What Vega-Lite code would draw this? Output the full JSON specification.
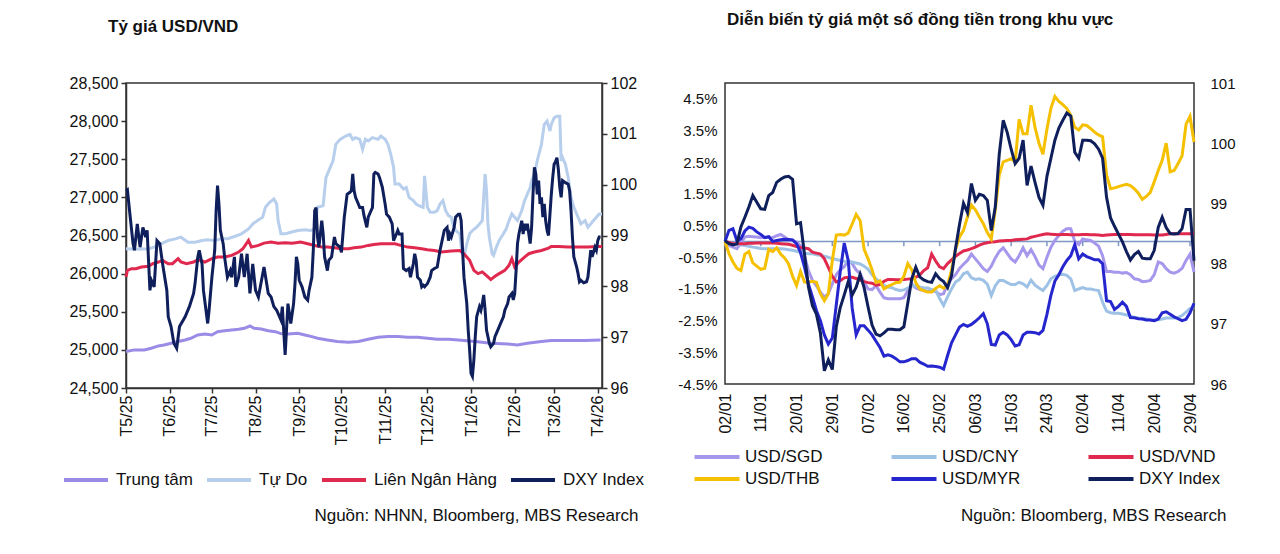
{
  "$schema": "https://vega.github.io/schema/vega-lite/v6.json",
  "padding": {"left": 61, "top": 10, "right": 0, "bottom": 0},
  "spacing": 31,
  "config": {
    "font": "Liberation Sans",
    "view": {"stroke": "#333333", "strokeWidth": 1.5},
    "axis": {"grid": false, "labelOverlap": false, "labelFlush": false, "labelColor": "#111111", "domainColor": "#333333", "tickColor": "#333333", "domainWidth": 1.5, "tickWidth": 1.5, "titleColor": "#111111", "titleFontWeight": "normal"},
    "title": {"fontSize": 17, "fontWeight": "bold", "anchor": "start", "frame": "group", "color": "#111111"},
    "legend": {"padding": 0, "title": null, "symbolType": "stroke", "symbolStrokeWidth": 4, "labelFontSize": 17, "labelColor": "#111111", "labelLimit": 300}
  },
  "resolve": {"scale": {"color": "independent"}, "legend": {"color": "independent"}},
  "datasets": {
    "vnd": [
      {"date": "2025-05-01", "series": "Trung tâm", "value": 24978},
      {"date": "2025-05-07", "series": "Trung tâm", "value": 25000},
      {"date": "2025-05-14", "series": "Trung tâm", "value": 25000},
      {"date": "2025-05-19", "series": "Trung tâm", "value": 25022},
      {"date": "2025-05-24", "series": "Trung tâm", "value": 25052},
      {"date": "2025-05-28", "series": "Trung tâm", "value": 25065},
      {"date": "2025-06-02", "series": "Trung tâm", "value": 25087},
      {"date": "2025-06-07", "series": "Trung tâm", "value": 25109},
      {"date": "2025-06-12", "series": "Trung tâm", "value": 25130},
      {"date": "2025-06-16", "series": "Trung tâm", "value": 25152},
      {"date": "2025-06-21", "series": "Trung tâm", "value": 25196},
      {"date": "2025-06-26", "series": "Trung tâm", "value": 25209},
      {"date": "2025-07-01", "series": "Trung tâm", "value": 25196},
      {"date": "2025-07-05", "series": "Trung tâm", "value": 25239},
      {"date": "2025-07-10", "series": "Trung tâm", "value": 25252},
      {"date": "2025-07-15", "series": "Trung tâm", "value": 25261},
      {"date": "2025-07-20", "series": "Trung tâm", "value": 25270},
      {"date": "2025-07-24", "series": "Trung tâm", "value": 25283},
      {"date": "2025-07-28", "series": "Trung tâm", "value": 25313},
      {"date": "2025-07-31", "series": "Trung tâm", "value": 25283},
      {"date": "2025-08-05", "series": "Trung tâm", "value": 25274},
      {"date": "2025-08-10", "series": "Trung tâm", "value": 25252},
      {"date": "2025-08-15", "series": "Trung tâm", "value": 25239},
      {"date": "2025-08-19", "series": "Trung tâm", "value": 25213},
      {"date": "2025-08-24", "series": "Trung tâm", "value": 25209},
      {"date": "2025-08-31", "series": "Trung tâm", "value": 25217},
      {"date": "2025-09-05", "series": "Trung tâm", "value": 25196},
      {"date": "2025-09-10", "series": "Trung tâm", "value": 25174},
      {"date": "2025-09-14", "series": "Trung tâm", "value": 25152},
      {"date": "2025-09-21", "series": "Trung tâm", "value": 25130},
      {"date": "2025-09-28", "series": "Trung tâm", "value": 25109},
      {"date": "2025-10-06", "series": "Trung tâm", "value": 25100},
      {"date": "2025-10-13", "series": "Trung tâm", "value": 25109},
      {"date": "2025-10-20", "series": "Trung tâm", "value": 25139},
      {"date": "2025-10-27", "series": "Trung tâm", "value": 25165},
      {"date": "2025-11-03", "series": "Trung tâm", "value": 25174},
      {"date": "2025-11-10", "series": "Trung tâm", "value": 25174},
      {"date": "2025-11-17", "series": "Trung tâm", "value": 25165},
      {"date": "2025-11-24", "series": "Trung tâm", "value": 25165},
      {"date": "2025-12-01", "series": "Trung tâm", "value": 25152},
      {"date": "2025-12-08", "series": "Trung tâm", "value": 25139},
      {"date": "2025-12-16", "series": "Trung tâm", "value": 25139},
      {"date": "2025-12-23", "series": "Trung tâm", "value": 25130},
      {"date": "2026-01-04", "series": "Trung tâm", "value": 25109},
      {"date": "2026-01-15", "series": "Trung tâm", "value": 25087},
      {"date": "2026-01-27", "series": "Trung tâm", "value": 25078},
      {"date": "2026-02-03", "series": "Trung tâm", "value": 25065},
      {"date": "2026-02-10", "series": "Trung tâm", "value": 25087},
      {"date": "2026-02-20", "series": "Trung tâm", "value": 25109},
      {"date": "2026-02-27", "series": "Trung tâm", "value": 25122},
      {"date": "2026-03-11", "series": "Trung tâm", "value": 25122},
      {"date": "2026-03-23", "series": "Trung tâm", "value": 25122},
      {"date": "2026-04-03", "series": "Trung tâm", "value": 25130},
      {"date": "2025-05-01", "series": "Tự Do", "value": 26326},
      {"date": "2025-05-09", "series": "Tự Do", "value": 26320},
      {"date": "2025-05-17", "series": "Tự Do", "value": 26326},
      {"date": "2025-05-21", "series": "Tự Do", "value": 26348},
      {"date": "2025-05-26", "series": "Tự Do", "value": 26391},
      {"date": "2025-05-31", "series": "Tự Do", "value": 26435},
      {"date": "2025-06-05", "series": "Tự Do", "value": 26456},
      {"date": "2025-06-09", "series": "Tự Do", "value": 26478},
      {"date": "2025-06-14", "series": "Tự Do", "value": 26413},
      {"date": "2025-06-19", "series": "Tự Do", "value": 26413},
      {"date": "2025-06-24", "series": "Tự Do", "value": 26435},
      {"date": "2025-06-28", "series": "Tự Do", "value": 26443},
      {"date": "2025-07-03", "series": "Tự Do", "value": 26435},
      {"date": "2025-07-08", "series": "Tự Do", "value": 26456},
      {"date": "2025-07-12", "series": "Tự Do", "value": 26456},
      {"date": "2025-07-17", "series": "Tự Do", "value": 26487},
      {"date": "2025-07-22", "series": "Tự Do", "value": 26522},
      {"date": "2025-07-27", "series": "Tự Do", "value": 26587},
      {"date": "2025-07-30", "series": "Tự Do", "value": 26652},
      {"date": "2025-08-03", "series": "Tự Do", "value": 26704},
      {"date": "2025-08-06", "series": "Tự Do", "value": 26739},
      {"date": "2025-08-08", "series": "Tự Do", "value": 26870},
      {"date": "2025-08-11", "series": "Tự Do", "value": 26935},
      {"date": "2025-08-14", "series": "Tự Do", "value": 26978},
      {"date": "2025-08-16", "series": "Tự Do", "value": 26913},
      {"date": "2025-08-17", "series": "Tự Do", "value": 26696},
      {"date": "2025-08-19", "series": "Tự Do", "value": 26522},
      {"date": "2025-08-22", "series": "Tự Do", "value": 26522},
      {"date": "2025-08-26", "series": "Tự Do", "value": 26543},
      {"date": "2025-08-31", "series": "Tự Do", "value": 26565},
      {"date": "2025-09-05", "series": "Tự Do", "value": 26574},
      {"date": "2025-09-09", "series": "Tự Do", "value": 26565},
      {"date": "2025-09-12", "series": "Tự Do", "value": 26587},
      {"date": "2025-09-14", "series": "Tự Do", "value": 26870},
      {"date": "2025-09-18", "series": "Tự Do", "value": 26891},
      {"date": "2025-09-20", "series": "Tự Do", "value": 27261},
      {"date": "2025-09-22", "series": "Tự Do", "value": 27348},
      {"date": "2025-09-25", "series": "Tự Do", "value": 27478},
      {"date": "2025-09-27", "series": "Tự Do", "value": 27696},
      {"date": "2025-09-30", "series": "Tự Do", "value": 27761},
      {"date": "2025-10-02", "series": "Tự Do", "value": 27783},
      {"date": "2025-10-04", "series": "Tự Do", "value": 27804},
      {"date": "2025-10-07", "series": "Tự Do", "value": 27826},
      {"date": "2025-10-09", "series": "Tự Do", "value": 27761},
      {"date": "2025-10-11", "series": "Tự Do", "value": 27783},
      {"date": "2025-10-14", "series": "Tự Do", "value": 27761},
      {"date": "2025-10-16", "series": "Tự Do", "value": 27630},
      {"date": "2025-10-18", "series": "Tự Do", "value": 27761},
      {"date": "2025-10-20", "series": "Tự Do", "value": 27739},
      {"date": "2025-10-23", "series": "Tự Do", "value": 27783},
      {"date": "2025-10-27", "series": "Tự Do", "value": 27761},
      {"date": "2025-10-29", "series": "Tự Do", "value": 27804},
      {"date": "2025-11-01", "series": "Tự Do", "value": 27761},
      {"date": "2025-11-03", "series": "Tự Do", "value": 27696},
      {"date": "2025-11-05", "series": "Tự Do", "value": 27565},
      {"date": "2025-11-07", "series": "Tự Do", "value": 27391},
      {"date": "2025-11-08", "series": "Tự Do", "value": 27174},
      {"date": "2025-11-11", "series": "Tự Do", "value": 27174},
      {"date": "2025-11-14", "series": "Tự Do", "value": 27109},
      {"date": "2025-11-16", "series": "Tự Do", "value": 27130},
      {"date": "2025-11-18", "series": "Tự Do", "value": 27000},
      {"date": "2025-11-21", "series": "Tự Do", "value": 26957},
      {"date": "2025-11-23", "series": "Tự Do", "value": 26913},
      {"date": "2025-11-25", "series": "Tự Do", "value": 26891},
      {"date": "2025-11-28", "series": "Tự Do", "value": 26870},
      {"date": "2025-11-29", "series": "Tự Do", "value": 27283},
      {"date": "2025-12-01", "series": "Tự Do", "value": 26870},
      {"date": "2025-12-03", "series": "Tự Do", "value": 26804},
      {"date": "2025-12-06", "series": "Tự Do", "value": 26804},
      {"date": "2025-12-08", "series": "Tự Do", "value": 26826},
      {"date": "2025-12-10", "series": "Tự Do", "value": 26913},
      {"date": "2025-12-12", "series": "Tự Do", "value": 26957},
      {"date": "2025-12-14", "series": "Tự Do", "value": 26826},
      {"date": "2025-12-16", "series": "Tự Do", "value": 26761},
      {"date": "2025-12-18", "series": "Tự Do", "value": 26739},
      {"date": "2025-12-19", "series": "Tự Do", "value": 26652},
      {"date": "2025-12-21", "series": "Tự Do", "value": 26565},
      {"date": "2025-12-24", "series": "Tự Do", "value": 26522},
      {"date": "2025-12-25", "series": "Tự Do", "value": 26348},
      {"date": "2025-12-27", "series": "Tự Do", "value": 26217},
      {"date": "2025-12-29", "series": "Tự Do", "value": 26391},
      {"date": "2025-12-31", "series": "Tự Do", "value": 26522},
      {"date": "2026-01-02", "series": "Tự Do", "value": 26565},
      {"date": "2026-01-05", "series": "Tự Do", "value": 26609},
      {"date": "2026-01-07", "series": "Tự Do", "value": 26652},
      {"date": "2026-01-09", "series": "Tự Do", "value": 26696},
      {"date": "2026-01-11", "series": "Tự Do", "value": 27304},
      {"date": "2026-01-12", "series": "Tự Do", "value": 27087},
      {"date": "2026-01-13", "series": "Tự Do", "value": 26652},
      {"date": "2026-01-14", "series": "Tự Do", "value": 26478},
      {"date": "2026-01-16", "series": "Tự Do", "value": 26261},
      {"date": "2026-01-17", "series": "Tự Do", "value": 26239},
      {"date": "2026-01-19", "series": "Tự Do", "value": 26348},
      {"date": "2026-01-21", "series": "Tự Do", "value": 26435},
      {"date": "2026-01-24", "series": "Tự Do", "value": 26522},
      {"date": "2026-01-26", "series": "Tự Do", "value": 26587},
      {"date": "2026-01-28", "series": "Tự Do", "value": 26696},
      {"date": "2026-01-30", "series": "Tự Do", "value": 26783},
      {"date": "2026-02-01", "series": "Tự Do", "value": 26739},
      {"date": "2026-02-03", "series": "Tự Do", "value": 26696},
      {"date": "2026-02-04", "series": "Tự Do", "value": 26739},
      {"date": "2026-02-06", "series": "Tự Do", "value": 26826},
      {"date": "2026-02-08", "series": "Tự Do", "value": 26957},
      {"date": "2026-02-10", "series": "Tự Do", "value": 27043},
      {"date": "2026-02-12", "series": "Tự Do", "value": 27130},
      {"date": "2026-02-13", "series": "Tự Do", "value": 27217},
      {"date": "2026-02-15", "series": "Tự Do", "value": 27304},
      {"date": "2026-02-17", "series": "Tự Do", "value": 27478},
      {"date": "2026-02-20", "series": "Tự Do", "value": 27696},
      {"date": "2026-02-22", "series": "Tự Do", "value": 27957},
      {"date": "2026-02-24", "series": "Tự Do", "value": 28000},
      {"date": "2026-02-26", "series": "Tự Do", "value": 27870},
      {"date": "2026-02-27", "series": "Tự Do", "value": 27957},
      {"date": "2026-03-01", "series": "Tự Do", "value": 28043},
      {"date": "2026-03-03", "series": "Tự Do", "value": 28065},
      {"date": "2026-03-05", "series": "Tự Do", "value": 28065},
      {"date": "2026-03-06", "series": "Tự Do", "value": 27478},
      {"date": "2026-03-07", "series": "Tự Do", "value": 27522},
      {"date": "2026-03-09", "series": "Tự Do", "value": 27435},
      {"date": "2026-03-11", "series": "Tự Do", "value": 27261},
      {"date": "2026-03-13", "series": "Tự Do", "value": 27000},
      {"date": "2026-03-15", "series": "Tự Do", "value": 26870},
      {"date": "2026-03-18", "series": "Tự Do", "value": 26739},
      {"date": "2026-03-20", "series": "Tự Do", "value": 26652},
      {"date": "2026-03-23", "series": "Tự Do", "value": 26696},
      {"date": "2026-03-25", "series": "Tự Do", "value": 26609},
      {"date": "2026-03-27", "series": "Tự Do", "value": 26652},
      {"date": "2026-03-29", "series": "Tự Do", "value": 26696},
      {"date": "2026-03-31", "series": "Tự Do", "value": 26739},
      {"date": "2026-04-02", "series": "Tự Do", "value": 26783},
      {"date": "2026-04-04", "series": "Tự Do", "value": 26783},
      {"date": "2025-05-01", "series": "Liên Ngân Hàng", "value": 25957},
      {"date": "2025-05-02", "series": "Liên Ngân Hàng", "value": 26043},
      {"date": "2025-05-05", "series": "Liên Ngân Hàng", "value": 26065},
      {"date": "2025-05-08", "series": "Liên Ngân Hàng", "value": 26065},
      {"date": "2025-05-12", "series": "Liên Ngân Hàng", "value": 26087},
      {"date": "2025-05-17", "series": "Liên Ngân Hàng", "value": 26096},
      {"date": "2025-05-20", "series": "Liên Ngân Hàng", "value": 26130},
      {"date": "2025-05-24", "series": "Liên Ngân Hàng", "value": 26152},
      {"date": "2025-05-27", "series": "Liên Ngân Hàng", "value": 26174},
      {"date": "2025-05-31", "series": "Liên Ngân Hàng", "value": 26130},
      {"date": "2025-06-03", "series": "Liên Ngân Hàng", "value": 26130},
      {"date": "2025-06-07", "series": "Liên Ngân Hàng", "value": 26196},
      {"date": "2025-06-09", "series": "Liên Ngân Hàng", "value": 26152},
      {"date": "2025-06-13", "series": "Liên Ngân Hàng", "value": 26130},
      {"date": "2025-06-18", "series": "Liên Ngân Hàng", "value": 26152},
      {"date": "2025-06-21", "series": "Liên Ngân Hàng", "value": 26183},
      {"date": "2025-06-26", "series": "Liên Ngân Hàng", "value": 26152},
      {"date": "2025-07-01", "series": "Liên Ngân Hàng", "value": 26196},
      {"date": "2025-07-05", "series": "Liên Ngân Hàng", "value": 26217},
      {"date": "2025-07-10", "series": "Liên Ngân Hàng", "value": 26217},
      {"date": "2025-07-15", "series": "Liên Ngân Hàng", "value": 26239},
      {"date": "2025-07-20", "series": "Liên Ngân Hàng", "value": 26283},
      {"date": "2025-07-23", "series": "Liên Ngân Hàng", "value": 26326},
      {"date": "2025-07-27", "series": "Liên Ngân Hàng", "value": 26435},
      {"date": "2025-07-29", "series": "Liên Ngân Hàng", "value": 26348},
      {"date": "2025-08-03", "series": "Liên Ngân Hàng", "value": 26370},
      {"date": "2025-08-07", "series": "Liên Ngân Hàng", "value": 26400},
      {"date": "2025-08-12", "series": "Liên Ngân Hàng", "value": 26413},
      {"date": "2025-08-17", "series": "Liên Ngân Hàng", "value": 26400},
      {"date": "2025-08-22", "series": "Liên Ngân Hàng", "value": 26404},
      {"date": "2025-08-27", "series": "Liên Ngân Hàng", "value": 26400},
      {"date": "2025-09-02", "series": "Liên Ngân Hàng", "value": 26413},
      {"date": "2025-09-07", "series": "Liên Ngân Hàng", "value": 26391},
      {"date": "2025-09-12", "series": "Liên Ngân Hàng", "value": 26370},
      {"date": "2025-09-17", "series": "Liên Ngân Hàng", "value": 26348},
      {"date": "2025-09-21", "series": "Liên Ngân Hàng", "value": 26348},
      {"date": "2025-09-26", "series": "Liên Ngân Hàng", "value": 26339},
      {"date": "2025-10-01", "series": "Liên Ngân Hàng", "value": 26326},
      {"date": "2025-10-06", "series": "Liên Ngân Hàng", "value": 26326},
      {"date": "2025-10-10", "series": "Liên Ngân Hàng", "value": 26339},
      {"date": "2025-10-15", "series": "Liên Ngân Hàng", "value": 26348},
      {"date": "2025-10-20", "series": "Liên Ngân Hàng", "value": 26370},
      {"date": "2025-10-24", "series": "Liên Ngân Hàng", "value": 26383},
      {"date": "2025-10-29", "series": "Liên Ngân Hàng", "value": 26391},
      {"date": "2025-11-03", "series": "Liên Ngân Hàng", "value": 26391},
      {"date": "2025-11-08", "series": "Liên Ngân Hàng", "value": 26391},
      {"date": "2025-11-12", "series": "Liên Ngân Hàng", "value": 26370},
      {"date": "2025-11-17", "series": "Liên Ngân Hàng", "value": 26348},
      {"date": "2025-11-22", "series": "Liên Ngân Hàng", "value": 26339},
      {"date": "2025-11-27", "series": "Liên Ngân Hàng", "value": 26326},
      {"date": "2025-12-01", "series": "Liên Ngân Hàng", "value": 26313},
      {"date": "2025-12-06", "series": "Liên Ngân Hàng", "value": 26304},
      {"date": "2025-12-11", "series": "Liên Ngân Hàng", "value": 26283},
      {"date": "2025-12-18", "series": "Liên Ngân Hàng", "value": 26296},
      {"date": "2025-12-24", "series": "Liên Ngân Hàng", "value": 26304},
      {"date": "2025-12-27", "series": "Liên Ngân Hàng", "value": 26261},
      {"date": "2025-12-31", "series": "Liên Ngân Hàng", "value": 26174},
      {"date": "2026-01-03", "series": "Liên Ngân Hàng", "value": 26043},
      {"date": "2026-01-06", "series": "Liên Ngân Hàng", "value": 26000},
      {"date": "2026-01-09", "series": "Liên Ngân Hàng", "value": 26022},
      {"date": "2026-01-13", "series": "Liên Ngân Hàng", "value": 25957},
      {"date": "2026-01-15", "series": "Liên Ngân Hàng", "value": 25922},
      {"date": "2026-01-18", "series": "Liên Ngân Hàng", "value": 25965},
      {"date": "2026-01-21", "series": "Liên Ngân Hàng", "value": 26000},
      {"date": "2026-01-25", "series": "Liên Ngân Hàng", "value": 26043},
      {"date": "2026-01-28", "series": "Liên Ngân Hàng", "value": 26109},
      {"date": "2026-01-30", "series": "Liên Ngân Hàng", "value": 26196},
      {"date": "2026-02-01", "series": "Liên Ngân Hàng", "value": 26087},
      {"date": "2026-02-04", "series": "Liên Ngân Hàng", "value": 26152},
      {"date": "2026-02-08", "series": "Liên Ngân Hàng", "value": 26217},
      {"date": "2026-02-11", "series": "Liên Ngân Hàng", "value": 26261},
      {"date": "2026-02-15", "series": "Liên Ngân Hàng", "value": 26283},
      {"date": "2026-02-20", "series": "Liên Ngân Hàng", "value": 26304},
      {"date": "2026-02-25", "series": "Liên Ngân Hàng", "value": 26335},
      {"date": "2026-02-27", "series": "Liên Ngân Hàng", "value": 26357},
      {"date": "2026-03-04", "series": "Liên Ngân Hàng", "value": 26357},
      {"date": "2026-03-11", "series": "Liên Ngân Hàng", "value": 26348},
      {"date": "2026-03-18", "series": "Liên Ngân Hàng", "value": 26348},
      {"date": "2026-03-25", "series": "Liên Ngân Hàng", "value": 26348},
      {"date": "2026-04-01", "series": "Liên Ngân Hàng", "value": 26357},
      {"date": "2026-04-04", "series": "Liên Ngân Hàng", "value": 26357},
      {"date": "2025-05-01", "series": "DXY Index", "value": 99.88},
      {"date": "2025-05-02", "series": "DXY Index", "value": 99.9},
      {"date": "2025-05-04", "series": "DXY Index", "value": 99.36},
      {"date": "2025-05-06", "series": "DXY Index", "value": 98.84},
      {"date": "2025-05-07", "series": "DXY Index", "value": 98.71},
      {"date": "2025-05-09", "series": "DXY Index", "value": 99.23},
      {"date": "2025-05-11", "series": "DXY Index", "value": 98.77},
      {"date": "2025-05-13", "series": "DXY Index", "value": 99.16},
      {"date": "2025-05-15", "series": "DXY Index", "value": 98.97},
      {"date": "2025-05-16", "series": "DXY Index", "value": 99.1},
      {"date": "2025-05-18", "series": "DXY Index", "value": 97.92},
      {"date": "2025-05-19", "series": "DXY Index", "value": 98.12},
      {"date": "2025-05-21", "series": "DXY Index", "value": 97.99},
      {"date": "2025-05-23", "series": "DXY Index", "value": 98.9},
      {"date": "2025-05-25", "series": "DXY Index", "value": 98.84},
      {"date": "2025-05-27", "series": "DXY Index", "value": 98.44},
      {"date": "2025-05-30", "series": "DXY Index", "value": 97.92},
      {"date": "2025-05-31", "series": "DXY Index", "value": 97.4},
      {"date": "2025-06-02", "series": "DXY Index", "value": 97.21},
      {"date": "2025-06-04", "series": "DXY Index", "value": 96.88},
      {"date": "2025-06-06", "series": "DXY Index", "value": 96.78},
      {"date": "2025-06-08", "series": "DXY Index", "value": 97.21},
      {"date": "2025-06-12", "series": "DXY Index", "value": 97.4},
      {"date": "2025-06-15", "series": "DXY Index", "value": 97.6},
      {"date": "2025-06-18", "series": "DXY Index", "value": 97.86},
      {"date": "2025-06-19", "series": "DXY Index", "value": 98.05},
      {"date": "2025-06-21", "series": "DXY Index", "value": 98.58},
      {"date": "2025-06-22", "series": "DXY Index", "value": 98.71},
      {"date": "2025-06-24", "series": "DXY Index", "value": 98.44},
      {"date": "2025-06-25", "series": "DXY Index", "value": 97.92},
      {"date": "2025-06-28", "series": "DXY Index", "value": 97.27},
      {"date": "2025-06-29", "series": "DXY Index", "value": 97.53},
      {"date": "2025-07-01", "series": "DXY Index", "value": 98.18},
      {"date": "2025-07-03", "series": "DXY Index", "value": 98.71},
      {"date": "2025-07-04", "series": "DXY Index", "value": 99.49},
      {"date": "2025-07-05", "series": "DXY Index", "value": 99.98},
      {"date": "2025-07-06", "series": "DXY Index", "value": 99.62},
      {"date": "2025-07-07", "series": "DXY Index", "value": 99.1},
      {"date": "2025-07-09", "series": "DXY Index", "value": 98.84},
      {"date": "2025-07-10", "series": "DXY Index", "value": 98.58},
      {"date": "2025-07-12", "series": "DXY Index", "value": 98.18},
      {"date": "2025-07-14", "series": "DXY Index", "value": 98.31},
      {"date": "2025-07-15", "series": "DXY Index", "value": 98.18},
      {"date": "2025-07-17", "series": "DXY Index", "value": 98.58},
      {"date": "2025-07-18", "series": "DXY Index", "value": 97.99},
      {"date": "2025-07-20", "series": "DXY Index", "value": 98.18},
      {"date": "2025-07-22", "series": "DXY Index", "value": 98.64},
      {"date": "2025-07-24", "series": "DXY Index", "value": 98.18},
      {"date": "2025-07-26", "series": "DXY Index", "value": 98.64},
      {"date": "2025-07-28", "series": "DXY Index", "value": 97.86},
      {"date": "2025-07-30", "series": "DXY Index", "value": 98.44},
      {"date": "2025-08-01", "series": "DXY Index", "value": 97.92},
      {"date": "2025-08-03", "series": "DXY Index", "value": 97.79},
      {"date": "2025-08-07", "series": "DXY Index", "value": 98.38},
      {"date": "2025-08-10", "series": "DXY Index", "value": 97.86},
      {"date": "2025-08-12", "series": "DXY Index", "value": 97.79},
      {"date": "2025-08-14", "series": "DXY Index", "value": 97.6},
      {"date": "2025-08-16", "series": "DXY Index", "value": 97.53},
      {"date": "2025-08-19", "series": "DXY Index", "value": 97.34},
      {"date": "2025-08-20", "series": "DXY Index", "value": 97.6},
      {"date": "2025-08-22", "series": "DXY Index", "value": 96.65},
      {"date": "2025-08-24", "series": "DXY Index", "value": 97.66},
      {"date": "2025-08-26", "series": "DXY Index", "value": 97.27},
      {"date": "2025-08-28", "series": "DXY Index", "value": 97.66},
      {"date": "2025-08-29", "series": "DXY Index", "value": 98.05},
      {"date": "2025-08-30", "series": "DXY Index", "value": 98.58},
      {"date": "2025-08-31", "series": "DXY Index", "value": 98.44},
      {"date": "2025-09-01", "series": "DXY Index", "value": 98.12},
      {"date": "2025-09-03", "series": "DXY Index", "value": 97.99},
      {"date": "2025-09-05", "series": "DXY Index", "value": 97.79},
      {"date": "2025-09-07", "series": "DXY Index", "value": 97.73},
      {"date": "2025-09-08", "series": "DXY Index", "value": 97.92},
      {"date": "2025-09-10", "series": "DXY Index", "value": 98.18},
      {"date": "2025-09-11", "series": "DXY Index", "value": 98.71},
      {"date": "2025-09-12", "series": "DXY Index", "value": 99.49},
      {"date": "2025-09-13", "series": "DXY Index", "value": 99.55},
      {"date": "2025-09-14", "series": "DXY Index", "value": 98.97},
      {"date": "2025-09-15", "series": "DXY Index", "value": 98.77},
      {"date": "2025-09-17", "series": "DXY Index", "value": 99.29},
      {"date": "2025-09-18", "series": "DXY Index", "value": 99.03},
      {"date": "2025-09-19", "series": "DXY Index", "value": 98.58},
      {"date": "2025-09-21", "series": "DXY Index", "value": 98.31},
      {"date": "2025-09-22", "series": "DXY Index", "value": 98.51},
      {"date": "2025-09-24", "series": "DXY Index", "value": 98.58},
      {"date": "2025-09-26", "series": "DXY Index", "value": 98.97},
      {"date": "2025-09-27", "series": "DXY Index", "value": 98.84},
      {"date": "2025-09-30", "series": "DXY Index", "value": 98.77},
      {"date": "2025-10-01", "series": "DXY Index", "value": 98.67},
      {"date": "2025-10-03", "series": "DXY Index", "value": 99.36},
      {"date": "2025-10-05", "series": "DXY Index", "value": 99.81},
      {"date": "2025-10-07", "series": "DXY Index", "value": 99.85},
      {"date": "2025-10-08", "series": "DXY Index", "value": 99.88},
      {"date": "2025-10-09", "series": "DXY Index", "value": 100.21},
      {"date": "2025-10-10", "series": "DXY Index", "value": 99.88},
      {"date": "2025-10-11", "series": "DXY Index", "value": 99.75},
      {"date": "2025-10-13", "series": "DXY Index", "value": 99.62},
      {"date": "2025-10-14", "series": "DXY Index", "value": 99.55},
      {"date": "2025-10-16", "series": "DXY Index", "value": 99.55},
      {"date": "2025-10-17", "series": "DXY Index", "value": 99.39},
      {"date": "2025-10-19", "series": "DXY Index", "value": 99.16},
      {"date": "2025-10-20", "series": "DXY Index", "value": 99.36},
      {"date": "2025-10-22", "series": "DXY Index", "value": 99.49},
      {"date": "2025-10-23", "series": "DXY Index", "value": 99.55},
      {"date": "2025-10-24", "series": "DXY Index", "value": 100.21},
      {"date": "2025-10-25", "series": "DXY Index", "value": 100.24},
      {"date": "2025-10-27", "series": "DXY Index", "value": 100.21},
      {"date": "2025-10-28", "series": "DXY Index", "value": 100.14},
      {"date": "2025-10-30", "series": "DXY Index", "value": 99.95},
      {"date": "2025-11-01", "series": "DXY Index", "value": 99.62},
      {"date": "2025-11-02", "series": "DXY Index", "value": 99.42},
      {"date": "2025-11-04", "series": "DXY Index", "value": 99.36},
      {"date": "2025-11-06", "series": "DXY Index", "value": 99.23},
      {"date": "2025-11-07", "series": "DXY Index", "value": 98.9},
      {"date": "2025-11-09", "series": "DXY Index", "value": 99.03},
      {"date": "2025-11-10", "series": "DXY Index", "value": 99.1},
      {"date": "2025-11-11", "series": "DXY Index", "value": 99.03},
      {"date": "2025-11-13", "series": "DXY Index", "value": 99.03},
      {"date": "2025-11-14", "series": "DXY Index", "value": 98.35},
      {"date": "2025-11-16", "series": "DXY Index", "value": 98.31},
      {"date": "2025-11-18", "series": "DXY Index", "value": 98.35},
      {"date": "2025-11-19", "series": "DXY Index", "value": 98.18},
      {"date": "2025-11-21", "series": "DXY Index", "value": 98.44},
      {"date": "2025-11-22", "series": "DXY Index", "value": 98.64},
      {"date": "2025-11-23", "series": "DXY Index", "value": 98.51},
      {"date": "2025-11-24", "series": "DXY Index", "value": 98.18},
      {"date": "2025-11-26", "series": "DXY Index", "value": 98.12},
      {"date": "2025-11-27", "series": "DXY Index", "value": 97.99},
      {"date": "2025-11-28", "series": "DXY Index", "value": 98.02},
      {"date": "2025-11-29", "series": "DXY Index", "value": 97.99},
      {"date": "2025-12-01", "series": "DXY Index", "value": 98.05},
      {"date": "2025-12-03", "series": "DXY Index", "value": 98.18},
      {"date": "2025-12-04", "series": "DXY Index", "value": 98.31},
      {"date": "2025-12-06", "series": "DXY Index", "value": 98.35},
      {"date": "2025-12-08", "series": "DXY Index", "value": 98.38},
      {"date": "2025-12-10", "series": "DXY Index", "value": 98.71},
      {"date": "2025-12-13", "series": "DXY Index", "value": 99.1},
      {"date": "2025-12-15", "series": "DXY Index", "value": 99.16},
      {"date": "2025-12-16", "series": "DXY Index", "value": 98.9},
      {"date": "2025-12-17", "series": "DXY Index", "value": 99.03},
      {"date": "2025-12-18", "series": "DXY Index", "value": 98.97},
      {"date": "2025-12-20", "series": "DXY Index", "value": 99.16},
      {"date": "2025-12-21", "series": "DXY Index", "value": 99.36},
      {"date": "2025-12-23", "series": "DXY Index", "value": 99.42},
      {"date": "2025-12-24", "series": "DXY Index", "value": 99.42},
      {"date": "2025-12-25", "series": "DXY Index", "value": 99.29},
      {"date": "2025-12-26", "series": "DXY Index", "value": 98.71},
      {"date": "2025-12-27", "series": "DXY Index", "value": 98.18},
      {"date": "2025-12-29", "series": "DXY Index", "value": 97.66},
      {"date": "2025-12-30", "series": "DXY Index", "value": 97.14},
      {"date": "2025-12-31", "series": "DXY Index", "value": 96.75},
      {"date": "2026-01-01", "series": "DXY Index", "value": 96.29},
      {"date": "2026-01-02", "series": "DXY Index", "value": 96.23},
      {"date": "2026-01-03", "series": "DXY Index", "value": 96.55},
      {"date": "2026-01-04", "series": "DXY Index", "value": 97.01},
      {"date": "2026-01-05", "series": "DXY Index", "value": 97.4},
      {"date": "2026-01-07", "series": "DXY Index", "value": 97.6},
      {"date": "2026-01-08", "series": "DXY Index", "value": 97.53},
      {"date": "2026-01-09", "series": "DXY Index", "value": 97.66},
      {"date": "2026-01-10", "series": "DXY Index", "value": 97.83},
      {"date": "2026-01-11", "series": "DXY Index", "value": 97.53},
      {"date": "2026-01-12", "series": "DXY Index", "value": 97.14},
      {"date": "2026-01-14", "series": "DXY Index", "value": 96.88},
      {"date": "2026-01-15", "series": "DXY Index", "value": 96.81},
      {"date": "2026-01-17", "series": "DXY Index", "value": 96.88},
      {"date": "2026-01-18", "series": "DXY Index", "value": 97.01},
      {"date": "2026-01-20", "series": "DXY Index", "value": 97.14},
      {"date": "2026-01-22", "series": "DXY Index", "value": 97.27},
      {"date": "2026-01-24", "series": "DXY Index", "value": 97.4},
      {"date": "2026-01-25", "series": "DXY Index", "value": 97.53},
      {"date": "2026-01-27", "series": "DXY Index", "value": 97.66},
      {"date": "2026-01-28", "series": "DXY Index", "value": 97.79},
      {"date": "2026-01-30", "series": "DXY Index", "value": 97.86},
      {"date": "2026-01-31", "series": "DXY Index", "value": 97.73},
      {"date": "2026-02-01", "series": "DXY Index", "value": 97.86},
      {"date": "2026-02-02", "series": "DXY Index", "value": 98.31},
      {"date": "2026-02-03", "series": "DXY Index", "value": 98.84},
      {"date": "2026-02-04", "series": "DXY Index", "value": 99.03},
      {"date": "2026-02-06", "series": "DXY Index", "value": 99.29},
      {"date": "2026-02-07", "series": "DXY Index", "value": 99.03},
      {"date": "2026-02-08", "series": "DXY Index", "value": 99.23},
      {"date": "2026-02-09", "series": "DXY Index", "value": 99.1},
      {"date": "2026-02-10", "series": "DXY Index", "value": 99.23},
      {"date": "2026-02-12", "series": "DXY Index", "value": 98.84},
      {"date": "2026-02-13", "series": "DXY Index", "value": 99.16},
      {"date": "2026-02-14", "series": "DXY Index", "value": 99.81},
      {"date": "2026-02-15", "series": "DXY Index", "value": 100.34},
      {"date": "2026-02-16", "series": "DXY Index", "value": 100.21},
      {"date": "2026-02-17", "series": "DXY Index", "value": 99.81},
      {"date": "2026-02-18", "series": "DXY Index", "value": 100.08},
      {"date": "2026-02-19", "series": "DXY Index", "value": 99.62},
      {"date": "2026-02-20", "series": "DXY Index", "value": 99.75},
      {"date": "2026-02-21", "series": "DXY Index", "value": 99.36},
      {"date": "2026-02-22", "series": "DXY Index", "value": 99.62},
      {"date": "2026-02-23", "series": "DXY Index", "value": 99.29},
      {"date": "2026-02-24", "series": "DXY Index", "value": 99.1},
      {"date": "2026-02-25", "series": "DXY Index", "value": 99.0},
      {"date": "2026-02-26", "series": "DXY Index", "value": 99.4},
      {"date": "2026-02-27", "series": "DXY Index", "value": 99.81},
      {"date": "2026-02-28", "series": "DXY Index", "value": 100.14},
      {"date": "2026-03-01", "series": "DXY Index", "value": 100.4},
      {"date": "2026-03-02", "series": "DXY Index", "value": 100.45},
      {"date": "2026-03-03", "series": "DXY Index", "value": 100.53},
      {"date": "2026-03-04", "series": "DXY Index", "value": 100.3},
      {"date": "2026-03-05", "series": "DXY Index", "value": 99.95},
      {"date": "2026-03-06", "series": "DXY Index", "value": 99.75},
      {"date": "2026-03-07", "series": "DXY Index", "value": 100.08},
      {"date": "2026-03-09", "series": "DXY Index", "value": 100.04},
      {"date": "2026-03-11", "series": "DXY Index", "value": 100.01},
      {"date": "2026-03-12", "series": "DXY Index", "value": 99.88},
      {"date": "2026-03-13", "series": "DXY Index", "value": 99.49},
      {"date": "2026-03-14", "series": "DXY Index", "value": 98.97},
      {"date": "2026-03-15", "series": "DXY Index", "value": 98.58},
      {"date": "2026-03-17", "series": "DXY Index", "value": 98.38},
      {"date": "2026-03-18", "series": "DXY Index", "value": 98.25},
      {"date": "2026-03-19", "series": "DXY Index", "value": 98.09},
      {"date": "2026-03-20", "series": "DXY Index", "value": 98.12},
      {"date": "2026-03-22", "series": "DXY Index", "value": 98.07},
      {"date": "2026-03-24", "series": "DXY Index", "value": 98.09},
      {"date": "2026-03-25", "series": "DXY Index", "value": 98.18},
      {"date": "2026-03-26", "series": "DXY Index", "value": 98.44},
      {"date": "2026-03-27", "series": "DXY Index", "value": 98.71},
      {"date": "2026-03-28", "series": "DXY Index", "value": 98.58},
      {"date": "2026-03-30", "series": "DXY Index", "value": 98.77},
      {"date": "2026-03-31", "series": "DXY Index", "value": 98.71},
      {"date": "2026-04-01", "series": "DXY Index", "value": 98.9},
      {"date": "2026-04-02", "series": "DXY Index", "value": 98.97},
      {"date": "2026-04-03", "series": "DXY Index", "value": 98.97}
    ],
    "region": [
      {"date": "2026-01-02", "USD/SGD": 0, "USD/CNY": 0, "USD/VND": 0, "USD/THB": 0, "USD/MYR": 0, "DXY": 98.38},
      {"date": "2026-01-03", "USD/SGD": -0.13, "USD/CNY": -0.04, "USD/VND": -0.03, "USD/THB": -0.39, "USD/MYR": 0.35, "DXY": 98.33},
      {"date": "2026-01-04", "USD/SGD": -0.18, "USD/CNY": -0.07, "USD/VND": -0.07, "USD/THB": -0.65, "USD/MYR": 0.4, "DXY": 98.31},
      {"date": "2026-01-05", "USD/SGD": -0.23, "USD/CNY": -0.09, "USD/VND": -0.07, "USD/THB": -0.85, "USD/MYR": 0.02, "DXY": 98.33},
      {"date": "2026-01-06", "USD/SGD": -0.05, "USD/CNY": -0.11, "USD/VND": -0.07, "USD/THB": -0.92, "USD/MYR": 0.08, "DXY": 98.61},
      {"date": "2026-01-07", "USD/SGD": 0.14, "USD/CNY": -0.13, "USD/VND": -0.07, "USD/THB": -0.4, "USD/MYR": 0.33, "DXY": 98.77},
      {"date": "2026-01-08", "USD/SGD": 0.16, "USD/CNY": -0.15, "USD/VND": -0.06, "USD/THB": -0.32, "USD/MYR": 0.45, "DXY": 98.94},
      {"date": "2026-01-09", "USD/SGD": 0.15, "USD/CNY": -0.18, "USD/VND": -0.06, "USD/THB": -0.68, "USD/MYR": 0.41, "DXY": 99.13},
      {"date": "2026-01-10", "USD/SGD": 0.14, "USD/CNY": -0.2, "USD/VND": -0.05, "USD/THB": -0.78, "USD/MYR": 0.3, "DXY": 99.02},
      {"date": "2026-01-11", "USD/SGD": 0.12, "USD/CNY": -0.22, "USD/VND": -0.05, "USD/THB": -0.88, "USD/MYR": 0.22, "DXY": 98.91},
      {"date": "2026-01-12", "USD/SGD": 0.13, "USD/CNY": -0.23, "USD/VND": -0.05, "USD/THB": -0.85, "USD/MYR": 0.12, "DXY": 98.9},
      {"date": "2026-01-13", "USD/SGD": 0.14, "USD/CNY": -0.23, "USD/VND": -0.05, "USD/THB": -0.25, "USD/MYR": 0.15, "DXY": 99.13},
      {"date": "2026-01-14", "USD/SGD": 0.12, "USD/CNY": -0.23, "USD/VND": -0.05, "USD/THB": -0.32, "USD/MYR": 0, "DXY": 99.18},
      {"date": "2026-01-15", "USD/SGD": 0.18, "USD/CNY": -0.23, "USD/VND": -0.06, "USD/THB": -0.2, "USD/MYR": 0.03, "DXY": 99.35},
      {"date": "2026-01-16", "USD/SGD": 0.22, "USD/CNY": -0.23, "USD/VND": -0.07, "USD/THB": -0.4, "USD/MYR": 0.05, "DXY": 99.4},
      {"date": "2026-01-17", "USD/SGD": 0.14, "USD/CNY": -0.24, "USD/VND": -0.08, "USD/THB": -0.52, "USD/MYR": 0.07, "DXY": 99.44},
      {"date": "2026-01-18", "USD/SGD": 0.05, "USD/CNY": -0.26, "USD/VND": -0.09, "USD/THB": -0.71, "USD/MYR": 0.06, "DXY": 99.45},
      {"date": "2026-01-19", "USD/SGD": 0.03, "USD/CNY": -0.28, "USD/VND": -0.12, "USD/THB": -1.1, "USD/MYR": 0.05, "DXY": 99.4},
      {"date": "2026-01-20", "USD/SGD": -0.02, "USD/CNY": -0.31, "USD/VND": -0.16, "USD/THB": -1.39, "USD/MYR": -0.07, "DXY": 98.66},
      {"date": "2026-01-21", "USD/SGD": -0.13, "USD/CNY": -0.34, "USD/VND": -0.19, "USD/THB": -0.95, "USD/MYR": -0.35, "DXY": 98.68},
      {"date": "2026-01-22", "USD/SGD": -0.45, "USD/CNY": -0.37, "USD/VND": -0.21, "USD/THB": -1.28, "USD/MYR": -0.81, "DXY": 98.16},
      {"date": "2026-01-23", "USD/SGD": -0.92, "USD/CNY": -0.39, "USD/VND": -0.23, "USD/THB": -1.29, "USD/MYR": -1.35, "DXY": 97.61},
      {"date": "2026-01-24", "USD/SGD": -1.23, "USD/CNY": -0.39, "USD/VND": -0.34, "USD/THB": -1.26, "USD/MYR": -1.75, "DXY": 97.3},
      {"date": "2026-01-25", "USD/SGD": -1.4, "USD/CNY": -0.42, "USD/VND": -0.37, "USD/THB": -1.29, "USD/MYR": -2.18, "DXY": 97.16},
      {"date": "2026-01-26", "USD/SGD": -1.6, "USD/CNY": -0.44, "USD/VND": -0.4, "USD/THB": -1.65, "USD/MYR": -2.5, "DXY": 96.85},
      {"date": "2026-01-27", "USD/SGD": -1.76, "USD/CNY": -0.47, "USD/VND": -0.55, "USD/THB": -1.87, "USD/MYR": -2.95, "DXY": 96.22},
      {"date": "2026-01-28", "USD/SGD": -1.65, "USD/CNY": -0.5, "USD/VND": -0.82, "USD/THB": -1.65, "USD/MYR": -3.24, "DXY": 96.4},
      {"date": "2026-01-29", "USD/SGD": -1.34, "USD/CNY": -0.55, "USD/VND": -1.1, "USD/THB": -0.6, "USD/MYR": -3.05, "DXY": 96.24},
      {"date": "2026-01-30", "USD/SGD": -1.05, "USD/CNY": -0.57, "USD/VND": -1.28, "USD/THB": 0.2, "USD/MYR": -2.0, "DXY": 96.95},
      {"date": "2026-01-31", "USD/SGD": -0.9, "USD/CNY": -0.6, "USD/VND": -1.24, "USD/THB": 0.22, "USD/MYR": -0.95, "DXY": 97.27},
      {"date": "2026-02-01", "USD/SGD": -0.8, "USD/CNY": -0.63, "USD/VND": -1.15, "USD/THB": 0.2, "USD/MYR": -0.05, "DXY": 97.48},
      {"date": "2026-02-02", "USD/SGD": -0.6, "USD/CNY": -0.65, "USD/VND": -1.13, "USD/THB": 0.26, "USD/MYR": -0.6, "DXY": 97.7},
      {"date": "2026-02-03", "USD/SGD": -0.7, "USD/CNY": -0.65, "USD/VND": -1.13, "USD/THB": 0.55, "USD/MYR": -2.1, "DXY": 97.48},
      {"date": "2026-02-04", "USD/SGD": -0.9, "USD/CNY": -0.68, "USD/VND": -1.17, "USD/THB": 0.85, "USD/MYR": -2.95, "DXY": 97.61},
      {"date": "2026-02-05", "USD/SGD": -1.02, "USD/CNY": -0.71, "USD/VND": -1.22, "USD/THB": 0.66, "USD/MYR": -2.66, "DXY": 97.82},
      {"date": "2026-02-06", "USD/SGD": -1.28, "USD/CNY": -0.78, "USD/VND": -1.27, "USD/THB": -0.25, "USD/MYR": -2.66, "DXY": 97.6},
      {"date": "2026-02-07", "USD/SGD": -1.5, "USD/CNY": -0.88, "USD/VND": -1.3, "USD/THB": -0.55, "USD/MYR": -2.8, "DXY": 97.28},
      {"date": "2026-02-08", "USD/SGD": -1.52, "USD/CNY": -1.05, "USD/VND": -1.32, "USD/THB": -0.9, "USD/MYR": -2.95, "DXY": 96.98},
      {"date": "2026-02-09", "USD/SGD": -1.4, "USD/CNY": -1.18, "USD/VND": -1.38, "USD/THB": -1.3, "USD/MYR": -3.15, "DXY": 96.83},
      {"date": "2026-02-10", "USD/SGD": -1.6, "USD/CNY": -1.28, "USD/VND": -1.36, "USD/THB": -1.25, "USD/MYR": -3.35, "DXY": 96.8},
      {"date": "2026-02-11", "USD/SGD": -1.78, "USD/CNY": -1.39, "USD/VND": -1.26, "USD/THB": -1.5, "USD/MYR": -3.62, "DXY": 96.85},
      {"date": "2026-02-12", "USD/SGD": -1.81, "USD/CNY": -1.44, "USD/VND": -1.2, "USD/THB": -1.42, "USD/MYR": -3.58, "DXY": 96.91},
      {"date": "2026-02-13", "USD/SGD": -1.81, "USD/CNY": -1.46, "USD/VND": -1.2, "USD/THB": -1.36, "USD/MYR": -3.62, "DXY": 96.91},
      {"date": "2026-02-14", "USD/SGD": -1.81, "USD/CNY": -1.52, "USD/VND": -1.21, "USD/THB": -1.3, "USD/MYR": -3.7, "DXY": 96.9},
      {"date": "2026-02-15", "USD/SGD": -1.81, "USD/CNY": -1.55, "USD/VND": -1.21, "USD/THB": -1.29, "USD/MYR": -3.8, "DXY": 96.9},
      {"date": "2026-02-16", "USD/SGD": -1.78, "USD/CNY": -1.53, "USD/VND": -1.2, "USD/THB": -1.1, "USD/MYR": -3.8, "DXY": 96.95},
      {"date": "2026-02-17", "USD/SGD": -1.55, "USD/CNY": -1.47, "USD/VND": -1.19, "USD/THB": -0.7, "USD/MYR": -3.76, "DXY": 97.35},
      {"date": "2026-02-18", "USD/SGD": -1.34, "USD/CNY": -1.4, "USD/VND": -1.18, "USD/THB": -0.9, "USD/MYR": -3.7, "DXY": 97.75},
      {"date": "2026-02-19", "USD/SGD": -1.47, "USD/CNY": -1.41, "USD/VND": -1.13, "USD/THB": -1.3, "USD/MYR": -3.7, "DXY": 97.94},
      {"date": "2026-02-20", "USD/SGD": -1.52, "USD/CNY": -1.44, "USD/VND": -1.06, "USD/THB": -1.5, "USD/MYR": -3.81, "DXY": 97.78},
      {"date": "2026-02-21", "USD/SGD": -1.55, "USD/CNY": -1.46, "USD/VND": -0.92, "USD/THB": -1.55, "USD/MYR": -3.87, "DXY": 97.73},
      {"date": "2026-02-22", "USD/SGD": -1.58, "USD/CNY": -1.47, "USD/VND": -0.83, "USD/THB": -1.6, "USD/MYR": -3.94, "DXY": 97.7},
      {"date": "2026-02-23", "USD/SGD": -1.57, "USD/CNY": -1.52, "USD/VND": -0.4, "USD/THB": -1.6, "USD/MYR": -3.93, "DXY": 97.69},
      {"date": "2026-02-24", "USD/SGD": -1.57, "USD/CNY": -1.55, "USD/VND": -0.62, "USD/THB": -1.48, "USD/MYR": -3.95, "DXY": 97.83},
      {"date": "2026-02-25", "USD/SGD": -1.68, "USD/CNY": -1.8, "USD/VND": -0.8, "USD/THB": -1.4, "USD/MYR": -3.97, "DXY": 97.75},
      {"date": "2026-02-26", "USD/SGD": -1.65, "USD/CNY": -2.02, "USD/VND": -0.86, "USD/THB": -1.48, "USD/MYR": -4.03, "DXY": 97.7},
      {"date": "2026-02-27", "USD/SGD": -1.34, "USD/CNY": -1.75, "USD/VND": -0.7, "USD/THB": -1.39, "USD/MYR": -3.6, "DXY": 97.6},
      {"date": "2026-02-28", "USD/SGD": -1.18, "USD/CNY": -1.5, "USD/VND": -0.58, "USD/THB": -0.9, "USD/MYR": -3.2, "DXY": 97.8},
      {"date": "2026-03-01", "USD/SGD": -1.05, "USD/CNY": -1.28, "USD/VND": -0.47, "USD/THB": -0.25, "USD/MYR": -2.95, "DXY": 98.25},
      {"date": "2026-03-02", "USD/SGD": -0.85, "USD/CNY": -1.2, "USD/VND": -0.38, "USD/THB": 0.14, "USD/MYR": -2.7, "DXY": 98.65},
      {"date": "2026-03-03", "USD/SGD": -0.72, "USD/CNY": -1.02, "USD/VND": -0.3, "USD/THB": 0.35, "USD/MYR": -2.62, "DXY": 99.0},
      {"date": "2026-03-04", "USD/SGD": -0.6, "USD/CNY": -0.97, "USD/VND": -0.27, "USD/THB": 0.77, "USD/MYR": -2.68, "DXY": 98.85},
      {"date": "2026-03-05", "USD/SGD": -0.4, "USD/CNY": -1.15, "USD/VND": -0.23, "USD/THB": 1.15, "USD/MYR": -2.62, "DXY": 99.33},
      {"date": "2026-03-06", "USD/SGD": -0.55, "USD/CNY": -1.2, "USD/VND": -0.18, "USD/THB": 1.0, "USD/MYR": -2.52, "DXY": 99.05},
      {"date": "2026-03-07", "USD/SGD": -0.7, "USD/CNY": -1.18, "USD/VND": -0.12, "USD/THB": 0.77, "USD/MYR": -2.41, "DXY": 99.15},
      {"date": "2026-03-08", "USD/SGD": -0.86, "USD/CNY": -1.23, "USD/VND": -0.07, "USD/THB": 0.56, "USD/MYR": -2.28, "DXY": 99.13},
      {"date": "2026-03-09", "USD/SGD": -0.95, "USD/CNY": -1.35, "USD/VND": -0.04, "USD/THB": 0.28, "USD/MYR": -2.6, "DXY": 99.05},
      {"date": "2026-03-10", "USD/SGD": -0.78, "USD/CNY": -1.71, "USD/VND": -0.02, "USD/THB": 0.08, "USD/MYR": -3.25, "DXY": 98.55},
      {"date": "2026-03-11", "USD/SGD": -0.52, "USD/CNY": -1.4, "USD/VND": -0.01, "USD/THB": 1.0, "USD/MYR": -3.27, "DXY": 98.94},
      {"date": "2026-03-12", "USD/SGD": -0.32, "USD/CNY": -1.23, "USD/VND": 0.01, "USD/THB": 2.1, "USD/MYR": -2.95, "DXY": 99.82},
      {"date": "2026-03-13", "USD/SGD": -0.2, "USD/CNY": -1.23, "USD/VND": 0.02, "USD/THB": 2.51, "USD/MYR": -2.87, "DXY": 100.38},
      {"date": "2026-03-14", "USD/SGD": -0.38, "USD/CNY": -1.3, "USD/VND": 0.03, "USD/THB": 2.56, "USD/MYR": -2.95, "DXY": 100.18},
      {"date": "2026-03-15", "USD/SGD": -0.55, "USD/CNY": -1.36, "USD/VND": 0.03, "USD/THB": 2.61, "USD/MYR": -3.1, "DXY": 99.9},
      {"date": "2026-03-16", "USD/SGD": -0.65, "USD/CNY": -1.36, "USD/VND": 0.05, "USD/THB": 2.5, "USD/MYR": -3.3, "DXY": 99.66},
      {"date": "2026-03-17", "USD/SGD": -0.45, "USD/CNY": -1.29, "USD/VND": 0.06, "USD/THB": 3.85, "USD/MYR": -3.26, "DXY": 99.75},
      {"date": "2026-03-18", "USD/SGD": -0.2, "USD/CNY": -1.34, "USD/VND": 0.07, "USD/THB": 3.4, "USD/MYR": -2.95, "DXY": 100.05},
      {"date": "2026-03-19", "USD/SGD": -0.45, "USD/CNY": -1.44, "USD/VND": 0.08, "USD/THB": 3.4, "USD/MYR": -2.87, "DXY": 99.3},
      {"date": "2026-03-20", "USD/SGD": -0.26, "USD/CNY": -1.22, "USD/VND": 0.13, "USD/THB": 4.3, "USD/MYR": -2.87, "DXY": 99.62},
      {"date": "2026-03-21", "USD/SGD": -0.48, "USD/CNY": -1.38, "USD/VND": 0.16, "USD/THB": 3.6, "USD/MYR": -2.88, "DXY": 99.35},
      {"date": "2026-03-22", "USD/SGD": -0.75, "USD/CNY": -1.47, "USD/VND": 0.19, "USD/THB": 3.1, "USD/MYR": -2.92, "DXY": 99.1},
      {"date": "2026-03-23", "USD/SGD": -0.86, "USD/CNY": -1.55, "USD/VND": 0.22, "USD/THB": 2.75, "USD/MYR": -2.81, "DXY": 98.97},
      {"date": "2026-03-24", "USD/SGD": -0.5, "USD/CNY": -1.39, "USD/VND": 0.24, "USD/THB": 3.55, "USD/MYR": -2.3, "DXY": 99.45},
      {"date": "2026-03-25", "USD/SGD": -0.18, "USD/CNY": -1.18, "USD/VND": 0.23, "USD/THB": 4.2, "USD/MYR": -1.7, "DXY": 99.75},
      {"date": "2026-03-26", "USD/SGD": 0.03, "USD/CNY": -1.1, "USD/VND": 0.22, "USD/THB": 4.58, "USD/MYR": -1.25, "DXY": 100.05},
      {"date": "2026-03-27", "USD/SGD": 0.19, "USD/CNY": -1.05, "USD/VND": 0.21, "USD/THB": 4.42, "USD/MYR": -1.05, "DXY": 100.25},
      {"date": "2026-03-28", "USD/SGD": 0.32, "USD/CNY": -1.04, "USD/VND": 0.22, "USD/THB": 4.32, "USD/MYR": -0.8, "DXY": 100.38},
      {"date": "2026-03-29", "USD/SGD": 0.4, "USD/CNY": -1.07, "USD/VND": 0.22, "USD/THB": 4.2, "USD/MYR": -0.6, "DXY": 100.5},
      {"date": "2026-03-30", "USD/SGD": 0.4, "USD/CNY": -1.18, "USD/VND": 0.21, "USD/THB": 3.98, "USD/MYR": -0.45, "DXY": 100.45},
      {"date": "2026-03-31", "USD/SGD": 0, "USD/CNY": -1.55, "USD/VND": 0.21, "USD/THB": 3.6, "USD/MYR": -0.1, "DXY": 99.85},
      {"date": "2026-04-01", "USD/SGD": -0.1, "USD/CNY": -1.5, "USD/VND": 0.21, "USD/THB": 3.52, "USD/MYR": -0.55, "DXY": 99.75},
      {"date": "2026-04-02", "USD/SGD": 0.08, "USD/CNY": -1.46, "USD/VND": 0.22, "USD/THB": 3.68, "USD/MYR": -0.4, "DXY": 100.05},
      {"date": "2026-04-03", "USD/SGD": 0.05, "USD/CNY": -1.5, "USD/VND": 0.22, "USD/THB": 3.66, "USD/MYR": -0.48, "DXY": 100.05},
      {"date": "2026-04-04", "USD/SGD": 0.03, "USD/CNY": -1.5, "USD/VND": 0.21, "USD/THB": 3.56, "USD/MYR": -0.53, "DXY": 100.04},
      {"date": "2026-04-05", "USD/SGD": -0.05, "USD/CNY": -1.53, "USD/VND": 0.21, "USD/THB": 3.45, "USD/MYR": -0.58, "DXY": 99.99},
      {"date": "2026-04-06", "USD/SGD": -0.15, "USD/CNY": -1.55, "USD/VND": 0.2, "USD/THB": 3.36, "USD/MYR": -0.58, "DXY": 99.9},
      {"date": "2026-04-07", "USD/SGD": -0.45, "USD/CNY": -1.92, "USD/VND": 0.19, "USD/THB": 3.3, "USD/MYR": -0.7, "DXY": 99.75},
      {"date": "2026-04-08", "USD/SGD": -0.95, "USD/CNY": -2.2, "USD/VND": 0.2, "USD/THB": 2.1, "USD/MYR": -1.87, "DXY": 99.1},
      {"date": "2026-04-09", "USD/SGD": -0.95, "USD/CNY": -2.25, "USD/VND": 0.21, "USD/THB": 1.66, "USD/MYR": -1.9, "DXY": 98.76},
      {"date": "2026-04-10", "USD/SGD": -0.97, "USD/CNY": -2.27, "USD/VND": 0.22, "USD/THB": 1.69, "USD/MYR": -2.15, "DXY": 98.62},
      {"date": "2026-04-11", "USD/SGD": -0.97, "USD/CNY": -2.27, "USD/VND": 0.22, "USD/THB": 1.73, "USD/MYR": -2.05, "DXY": 98.49},
      {"date": "2026-04-12", "USD/SGD": -1.0, "USD/CNY": -2.29, "USD/VND": 0.22, "USD/THB": 1.77, "USD/MYR": -1.92, "DXY": 98.36},
      {"date": "2026-04-13", "USD/SGD": -0.98, "USD/CNY": -2.32, "USD/VND": 0.22, "USD/THB": 1.8, "USD/MYR": -2.05, "DXY": 98.2},
      {"date": "2026-04-14", "USD/SGD": -1.05, "USD/CNY": -2.36, "USD/VND": 0.22, "USD/THB": 1.76, "USD/MYR": -2.4, "DXY": 98.06},
      {"date": "2026-04-15", "USD/SGD": -1.18, "USD/CNY": -2.4, "USD/VND": 0.21, "USD/THB": 1.66, "USD/MYR": -2.41, "DXY": 98.15},
      {"date": "2026-04-16", "USD/SGD": -1.2, "USD/CNY": -2.42, "USD/VND": 0.21, "USD/THB": 1.52, "USD/MYR": -2.44, "DXY": 98.2},
      {"date": "2026-04-17", "USD/SGD": -1.27, "USD/CNY": -2.43, "USD/VND": 0.21, "USD/THB": 1.33, "USD/MYR": -2.45, "DXY": 98.09},
      {"date": "2026-04-18", "USD/SGD": -1.26, "USD/CNY": -2.45, "USD/VND": 0.21, "USD/THB": 1.42, "USD/MYR": -2.48, "DXY": 98.08},
      {"date": "2026-04-19", "USD/SGD": -1.23, "USD/CNY": -2.47, "USD/VND": 0.21, "USD/THB": 1.55, "USD/MYR": -2.48, "DXY": 98.08},
      {"date": "2026-04-20", "USD/SGD": -1.05, "USD/CNY": -2.48, "USD/VND": 0.2, "USD/THB": 1.88, "USD/MYR": -2.5, "DXY": 98.22},
      {"date": "2026-04-21", "USD/SGD": -0.65, "USD/CNY": -2.47, "USD/VND": 0.2, "USD/THB": 2.24, "USD/MYR": -2.45, "DXY": 98.6},
      {"date": "2026-04-22", "USD/SGD": -0.7, "USD/CNY": -2.45, "USD/VND": 0.2, "USD/THB": 2.56, "USD/MYR": -2.25, "DXY": 98.77},
      {"date": "2026-04-23", "USD/SGD": -0.86, "USD/CNY": -2.42, "USD/VND": 0.22, "USD/THB": 3.1, "USD/MYR": -2.22, "DXY": 98.6},
      {"date": "2026-04-24", "USD/SGD": -0.97, "USD/CNY": -2.42, "USD/VND": 0.24, "USD/THB": 2.2, "USD/MYR": -2.3, "DXY": 98.5},
      {"date": "2026-04-25", "USD/SGD": -1.0, "USD/CNY": -2.42, "USD/VND": 0.24, "USD/THB": 2.24, "USD/MYR": -2.38, "DXY": 98.49},
      {"date": "2026-04-26", "USD/SGD": -0.95, "USD/CNY": -2.4, "USD/VND": 0.24, "USD/THB": 2.46, "USD/MYR": -2.44, "DXY": 98.5},
      {"date": "2026-04-27", "USD/SGD": -0.85, "USD/CNY": -2.34, "USD/VND": 0.24, "USD/THB": 2.7, "USD/MYR": -2.5, "DXY": 98.58},
      {"date": "2026-04-28", "USD/SGD": -0.6, "USD/CNY": -2.23, "USD/VND": 0.24, "USD/THB": 3.7, "USD/MYR": -2.46, "DXY": 98.9},
      {"date": "2026-04-29", "USD/SGD": -0.4, "USD/CNY": -2.12, "USD/VND": 0.24, "USD/THB": 3.95, "USD/MYR": -2.25, "DXY": 98.9},
      {"date": "2026-04-30", "USD/SGD": -0.97, "USD/CNY": -2.08, "USD/VND": 0.24, "USD/THB": 3.14, "USD/MYR": -1.95, "DXY": 98.05}
    ],
    "ticks": [
      {"date": "2026-01-02"}, {"date": "2026-01-11"}, {"date": "2026-01-20"}, {"date": "2026-01-29"},
      {"date": "2026-02-07"}, {"date": "2026-02-16"}, {"date": "2026-02-25"}, {"date": "2026-03-06"},
      {"date": "2026-03-15"}, {"date": "2026-03-24"}, {"date": "2026-04-02"}, {"date": "2026-04-11"},
      {"date": "2026-04-20"}, {"date": "2026-04-29"}
    ]
  },
  "hconcat": [
    {
      "width": 476,
      "height": 305,
      "title": {"text": "Tỷ giá USD/VND", "dx": -18, "offset": 39},
      "data": {"name": "vnd"},
      "resolve": {"scale": {"y": "independent"}},
      "layer": [
        {
          "transform": [{"filter": "datum.series !== 'DXY Index'"}],
          "mark": {"type": "line", "strokeWidth": 3},
          "encoding": {
            "x": {
              "field": "date", "type": "temporal",
              "scale": {"type": "utc", "domain": [{"year": 2025, "month": 5, "date": 1, "utc": true}, {"year": 2026, "month": 4, "date": 4, "utc": true}]},
              "axis": {
                "values": [
                  {"year": 2025, "month": 5, "date": 1, "utc": true}, {"year": 2025, "month": 6, "date": 1, "utc": true},
                  {"year": 2025, "month": 7, "date": 1, "utc": true}, {"year": 2025, "month": 8, "date": 1, "utc": true},
                  {"year": 2025, "month": 9, "date": 1, "utc": true}, {"year": 2025, "month": 10, "date": 1, "utc": true},
                  {"year": 2025, "month": 11, "date": 1, "utc": true}, {"year": 2025, "month": 12, "date": 1, "utc": true},
                  {"year": 2026, "month": 1, "date": 1, "utc": true}, {"year": 2026, "month": 2, "date": 1, "utc": true},
                  {"year": 2026, "month": 3, "date": 1, "utc": true}, {"year": 2026, "month": 4, "date": 1, "utc": true}
                ],
                "tickCount": 30,
                "labelExpr": "'T' + (utcmonth(datum.value) + 1) + '/' + (utcyear(datum.value) % 100)",
                "labelAngle": -90, "labelFontSize": 16, "labelPadding": 2, "tickSize": 5,
                "labelFlush": false, "labelOverlap": false,
                "title": "Nguồn: NHNN, Bloomberg, MBS Research",
                "titleFontSize": 17, "titleX": 512, "titleY": 127, "titleAlign": "right", "titleBaseline": "middle"
              }
            },
            "y": {
              "field": "value", "type": "quantitative",
              "scale": {"domain": [24500, 28500], "nice": false, "zero": false},
              "axis": {"values": [24500, 25000, 25500, 26000, 26500, 27000, 27500, 28000, 28500], "tickCount": 30, "labelExpr": "format(datum.value, ',')", "title": null, "labelFontSize": 16, "tickSize": 5, "labelPadding": 3}
            },
            "color": {
              "field": "series", "type": "nominal",
              "scale": {"domain": ["Trung tâm", "Tự Do", "Liên Ngân Hàng", "DXY Index"], "range": ["#9B8AE6", "#B7CFEC", "#E0294F", "#0F1F5C"]},
              "legend": {"orient": "none", "legendX": -64, "legendY": 373, "direction": "horizontal", "symbolSize": 1936, "labelOffset": 6, "columnPadding": 6}
            }
          }
        },
        {
          "transform": [{"filter": "datum.series === 'DXY Index'"}],
          "mark": {"type": "line", "strokeWidth": 3},
          "encoding": {
            "x": {"field": "date", "type": "temporal"},
            "y": {
              "field": "value", "type": "quantitative",
              "scale": {"domain": [96, 102], "nice": false, "zero": false},
              "axis": {"orient": "right", "values": [96, 97, 98, 99, 100, 101, 102], "tickCount": 30, "labelExpr": "format(datum.value, 'd')", "title": null, "labelFontSize": 16, "tickSize": 5, "labelPadding": 3}
            },
            "color": {"field": "series", "type": "nominal"}
          }
        }
      ]
    },
    {
      "width": 469,
      "height": 301,
      "title": {"text": "Diễn biến tỷ giá một số đồng tiền trong khu vực", "dx": 2, "offset": 47},
      "resolve": {"scale": {"y": "independent"}},
      "layer": [
        {
          "layer": [
            {
              "data": {"name": "ticks"},
              "mark": {"type": "rule", "color": "#7D98C2", "strokeWidth": 1.5},
              "encoding": {
                "x": {
                  "field": "date", "type": "temporal",
                  "scale": {"type": "utc", "domain": [{"year": 2026, "month": 1, "date": 2, "utc": true}, {"year": 2026, "month": 4, "date": 30, "utc": true}]},
                  "axis": {
                    "values": [
                      {"year": 2026, "month": 1, "date": 2, "utc": true}, {"year": 2026, "month": 1, "date": 11, "utc": true},
                      {"year": 2026, "month": 1, "date": 20, "utc": true}, {"year": 2026, "month": 1, "date": 29, "utc": true},
                      {"year": 2026, "month": 2, "date": 7, "utc": true}, {"year": 2026, "month": 2, "date": 16, "utc": true},
                      {"year": 2026, "month": 2, "date": 25, "utc": true}, {"year": 2026, "month": 3, "date": 6, "utc": true},
                      {"year": 2026, "month": 3, "date": 15, "utc": true}, {"year": 2026, "month": 3, "date": 24, "utc": true},
                      {"year": 2026, "month": 4, "date": 2, "utc": true}, {"year": 2026, "month": 4, "date": 11, "utc": true},
                      {"year": 2026, "month": 4, "date": 20, "utc": true}, {"year": 2026, "month": 4, "date": 29, "utc": true}
                    ],
                    "tickCount": 30,
                    "labelExpr": "utcFormat(datum.value, '%d/%m')",
                    "labelAngle": -90, "labelFontSize": 16, "labelPadding": 9, "ticks": false, "domain": false,
                    "labelFlush": false, "labelOverlap": false,
                    "title": "Nguồn: Bloomberg, MBS Research",
                    "titleFontSize": 17, "titleX": 501, "titleY": 131, "titleAlign": "right", "titleBaseline": "middle"
                  }
                },
                "y": {
                  "datum": 0, "type": "quantitative",
                  "scale": {"domain": [-4.5, 5], "nice": false, "zero": false},
                  "axis": {
                    "values": [-4.5, -3.5, -2.5, -1.5, -0.5, 0.5, 1.5, 2.5, 3.5, 4.5],
                    "tickCount": 30,
                    "labelExpr": "(datum.value < 0 ? '-' : '') + format(abs(datum.value), '.1f') + '%'",
                    "title": null, "ticks": false, "domain": false, "labelFontSize": 15, "labelPadding": 8, "labelOverlap": false
                  }
                },
                "y2": {"datum": -0.15}
              }
            },
            {
              "data": {"values": [{}]},
              "mark": {"type": "rule", "color": "#7D98C2", "strokeWidth": 1.5},
              "encoding": {"y": {"datum": 0, "type": "quantitative"}}
            },
            {
              "data": {"name": "region"},
              "transform": [{"fold": ["USD/SGD", "USD/CNY", "USD/VND", "USD/THB", "USD/MYR"], "as": ["series", "value"]}],
              "mark": {"type": "line", "strokeWidth": 3},
              "encoding": {
                "x": {"field": "date", "type": "temporal"},
                "y": {"field": "value", "type": "quantitative"},
                "color": {
                  "field": "series", "type": "nominal",
                  "scale": {"domain": ["USD/SGD", "USD/CNY", "USD/VND", "USD/THB", "USD/MYR", "DXY Index"], "range": ["#A797EC", "#9EC1E6", "#E0294F", "#F5C000", "#2626CF", "#0F1F5C"]},
                  "legend": {"orient": "none", "legendX": -20, "legendY": 362, "direction": "horizontal", "columns": 3, "gridAlign": "all", "columnPadding": 56, "rowPadding": 2, "symbolType": "M-2.25,0H2.25", "symbolSize": 400, "labelOffset": 16}
                }
              }
            }
          ]
        },
        {
          "data": {"name": "region"},
          "mark": {"type": "line", "strokeWidth": 3},
          "encoding": {
            "x": {"field": "date", "type": "temporal"},
            "y": {
              "field": "DXY", "type": "quantitative",
              "scale": {"domain": [96, 101], "nice": false, "zero": false},
              "axis": {"orient": "right", "values": [96, 97, 98, 99, 100, 101], "tickCount": 30, "labelExpr": "format(datum.value, 'd')", "title": null, "ticks": false, "domain": false, "labelFontSize": 15, "labelPadding": 16}
            },
            "color": {"datum": "DXY Index", "type": "nominal"}
          }
        }
      ]
    }
  ]
}
